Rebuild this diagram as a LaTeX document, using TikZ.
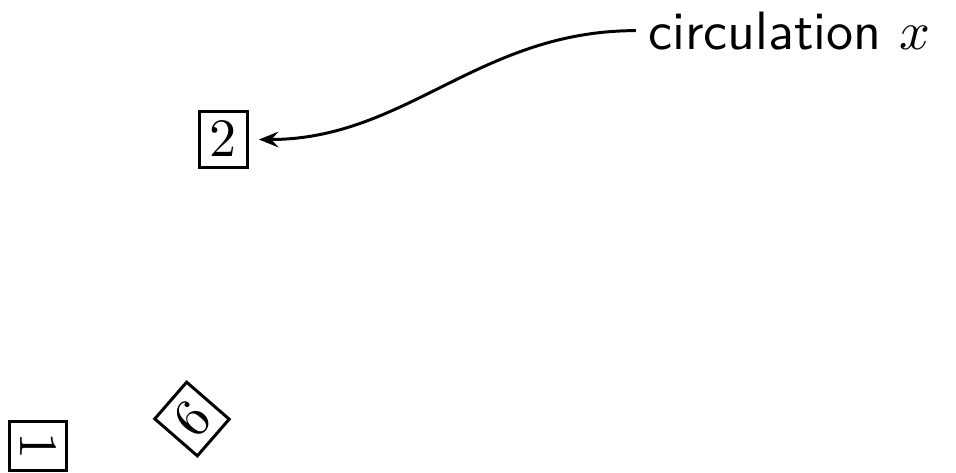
\documentclass[tikz,border=0pt]{standalone}
\usetikzlibrary{arrows.meta}
\begin{document}
\begin{tikzpicture}[x=0.1852pt,y=-0.1852pt,line width=0.55pt,
  numbox/.style={draw,inner sep=2pt}]
\useasboundingbox (0,0) rectangle (956,472);
\node[numbox] (two) at (223.5,139.5) {$2$};
\node[numbox,rotate=-90] (one) at (38,446) {$1$};
\node[numbox,rotate=49] (six) at (192,419) {$6$};
\node[anchor=west,inner sep=2pt] (lab) at (636,30.6) {\textsf{circulation} $x$};
\draw[-{Stealth[length=3.6pt,width=2.9pt,inset=1.3pt]},shorten >=1.8pt] (lab.west) to[out=180,in=0] (two.east);
\end{tikzpicture}
\end{document}
